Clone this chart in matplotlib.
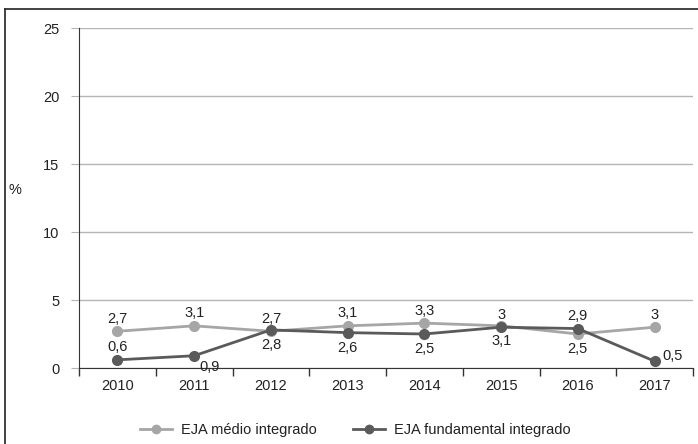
import matplotlib
matplotlib.use("Agg")
import matplotlib.pyplot as plt
from matplotlib import font_manager
from matplotlib.lines import Line2D

years = ["2010", "2011", "2012", "2013", "2014", "2015", "2016", "2017"]
medio = [2.7, 3.1, 2.7, 3.1, 3.3, 3.1, 2.5, 3.0]
fundamental = [0.6, 0.9, 2.8, 2.6, 2.5, 3.0, 2.9, 0.5]
series_names = ["EJA médio integrado", "EJA fundamental integrado"]
y_ticks = [0, 5, 10, 15, 20, 25]

# label offsets in points (dx, dy) for each point
medio_off = [(0, 9), (0, 9), (0, 9), (0, 9), (0, 9), (0, -11), (0, -11), (0, 9)]
fund_off = [(0, 9), (11, -8), (0, -11), (0, -11), (0, -11), (0, 9), (0, 9), (13, 4)]

available = {f.name for f in font_manager.fontManager.ttflist}
fam = "Liberation Sans Narrow" if "Liberation Sans Narrow" in available else "Liberation Sans"
plt.rcParams["font.family"] = [fam, "DejaVu Sans"]
plt.rcParams["font.size"] = 10.5

light = "#a6a6a6"
dark = "#5a5a5a"
text_c = "#222222"

fig = plt.figure(figsize=(6.98, 4.44), dpi=100)
ax = fig.add_axes([79 / 698, 1 - 368 / 444, 614 / 698, 340 / 444])

x = list(range(len(years)))
ax.plot(x, medio, color=light, lw=2, marker="o", ms=7, zorder=3)
ax.plot(x, fundamental, color=dark, lw=2, marker="o", ms=7, zorder=4)

def fmt(v):
    return ("%g" % v).replace(".", ",")

for xi, v, (dx, dy) in zip(x, medio, medio_off):
    ax.annotate(fmt(v), (xi, v), xytext=(dx, dy), textcoords="offset points",
                ha="center", va="center", color=text_c, fontsize=10.5)
for xi, v, (dx, dy) in zip(x, fundamental, fund_off):
    ax.annotate(fmt(v), (xi, v), xytext=(dx, dy), textcoords="offset points",
                ha="center", va="center", color=text_c, fontsize=10.5)

ax.set_xlim(-0.5, len(years) - 0.5)
ax.set_ylim(0, 25)
ax.set_yticks(y_ticks)
ax.set_yticklabels([str(t) for t in y_ticks], color=text_c)
ax.yaxis.grid(True, color="#b5b5b5", lw=1)
ax.set_axisbelow(True)
ax.tick_params(axis="y", length=6, color="#b5b5b5", pad=8, labelsize=10.5)

ax.set_xticks(x)
ax.set_xticklabels(years, color=text_c)
ax.tick_params(axis="x", which="major", length=0, pad=8, labelsize=10.5)
ax.set_xticks([i - 0.5 for i in range(len(years) + 1)], minor=True)
ax.tick_params(axis="x", which="minor", length=6, color="#333333", width=1)

for s in ["top", "right"]:
    ax.spines[s].set_visible(False)
ax.spines["left"].set_color("#333333")
ax.spines["bottom"].set_color("#333333")

fig.text(15 / 698, 1 - 190 / 444, "%", ha="center", va="center", color=text_c, fontsize=10.5)

handles = [Line2D([0], [0], color=light, lw=2, marker="o", ms=6),
           Line2D([0], [0], color=dark, lw=2, marker="o", ms=6)]
fig.legend(handles, series_names, loc="center", bbox_to_anchor=(355 / 698, 1 - 430 / 444),
           ncol=2, frameon=False, fontsize=10.5, handlelength=2.2, columnspacing=2.5,
           handletextpad=0.6, labelcolor=text_c)

# outer frame: only top and left edges fall inside the canvas
fig.add_artist(Line2D([5 / 698, 5 / 698], [0, 1 - 9 / 444], transform=fig.transFigure,
                      color="#333333", lw=1.3))
fig.add_artist(Line2D([5 / 698, 1], [1 - 9 / 444, 1 - 9 / 444], transform=fig.transFigure,
                      color="#333333", lw=1.3))

fig.savefig("out.png", dpi=100)
